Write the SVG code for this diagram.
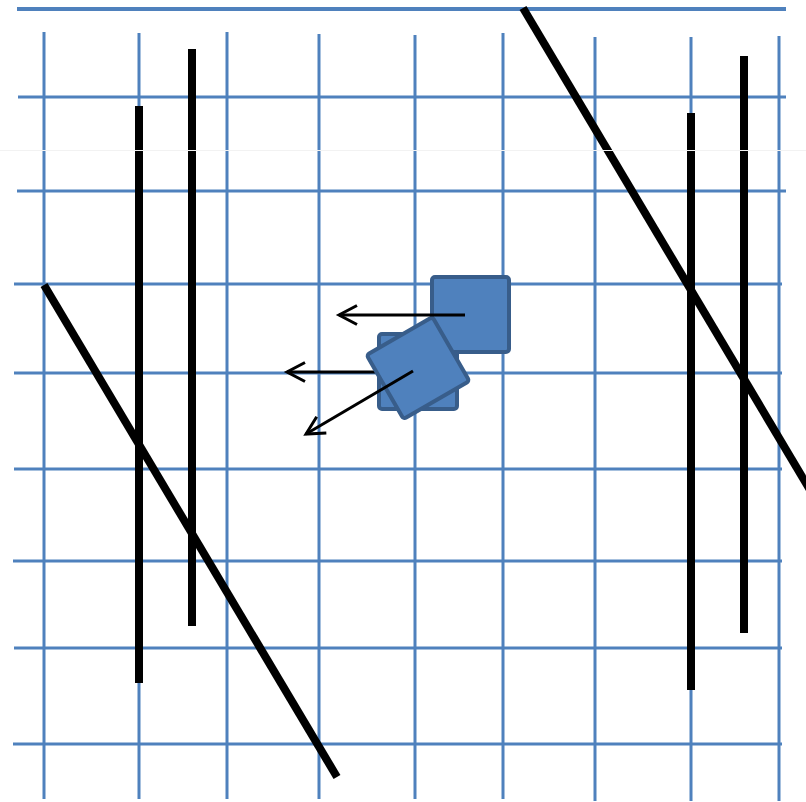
<svg xmlns="http://www.w3.org/2000/svg" width="806" height="802" viewBox="0 0 806 802">
<style>
.grid line{stroke:#4f81bd;stroke-width:3;fill:none}
.bar{stroke:#000;stroke-width:8;fill:none}
.sq{fill:#4f81bd;stroke:#385d8a;stroke-width:4}
.arr{stroke:#000;stroke-width:3;fill:none;marker-end:url(#chev)}
</style>
<defs>
<marker id="chev" viewBox="-22 -12 26 24" refX="0" refY="0" markerWidth="26" markerHeight="24" markerUnits="userSpaceOnUse" orient="auto">
<path d="M-18,-9.5 L0,0 L-18,9.5" fill="none" stroke="#000" stroke-width="3"/>
</marker>
</defs>
<rect width="806" height="802" fill="#fff"/>
<g id="grid" class="grid">
<line x1="17" y1="9" x2="786" y2="9" style="stroke-width:4"/>
<line x1="18" y1="97" x2="786" y2="97"/>
<line x1="17" y1="191" x2="786" y2="191"/>
<line x1="14" y1="284" x2="782" y2="284"/>
<line x1="14" y1="373" x2="782" y2="373"/>
<line x1="14" y1="469" x2="782" y2="469"/>
<line x1="13" y1="561" x2="782" y2="561"/>
<line x1="14" y1="648" x2="782" y2="648"/>
<line x1="13" y1="744" x2="782" y2="744"/>
<line x1="44" y1="32" x2="44" y2="799"/>
<line x1="139" y1="33" x2="139" y2="799"/>
<line x1="227" y1="32" x2="227" y2="799"/>
<line x1="319" y1="34" x2="319" y2="799"/>
<line x1="415" y1="35" x2="415" y2="799"/>
<line x1="503" y1="33" x2="503" y2="799"/>
<line x1="595" y1="37" x2="595" y2="801"/>
<line x1="691" y1="37" x2="691" y2="801"/>
<line x1="779" y1="36" x2="779" y2="801"/>
</g>
<g id="bars">
<line class="bar" x1="139" y1="106" x2="139" y2="683"/>
<line class="bar" x1="192" y1="49" x2="192" y2="626"/>
<line class="bar" x1="691" y1="113" x2="691" y2="690"/>
<line class="bar" x1="744" y1="56" x2="744" y2="633"/>
<line class="bar" x1="44" y1="285" x2="337" y2="777"/>
<line class="bar" x1="523" y1="8" x2="816" y2="500"/>
</g>
<line x1="0" y1="150.5" x2="806" y2="150.5" stroke="#f2f2f2" stroke-width="1"/>
<g id="square-b">
<rect class="sq" x="379" y="334" width="78" height="75" rx="3"/>
</g>
<g id="square-a">
<rect class="sq" x="432" y="277" width="77" height="75" rx="3"/>
</g>
<g id="connectors-under">
<line class="arr" x1="418" y1="372" x2="287" y2="372"/>
</g>
<g id="square-rot">
<rect class="sq" x="-38" y="-37" width="76" height="74" rx="3" transform="translate(418,368) rotate(-30)"/>
</g>
<g id="connectors">
<line class="arr" x1="465" y1="315" x2="339" y2="315"/>
<line class="arr" x1="413" y1="371" x2="306" y2="434"/>
</g>
</svg>
